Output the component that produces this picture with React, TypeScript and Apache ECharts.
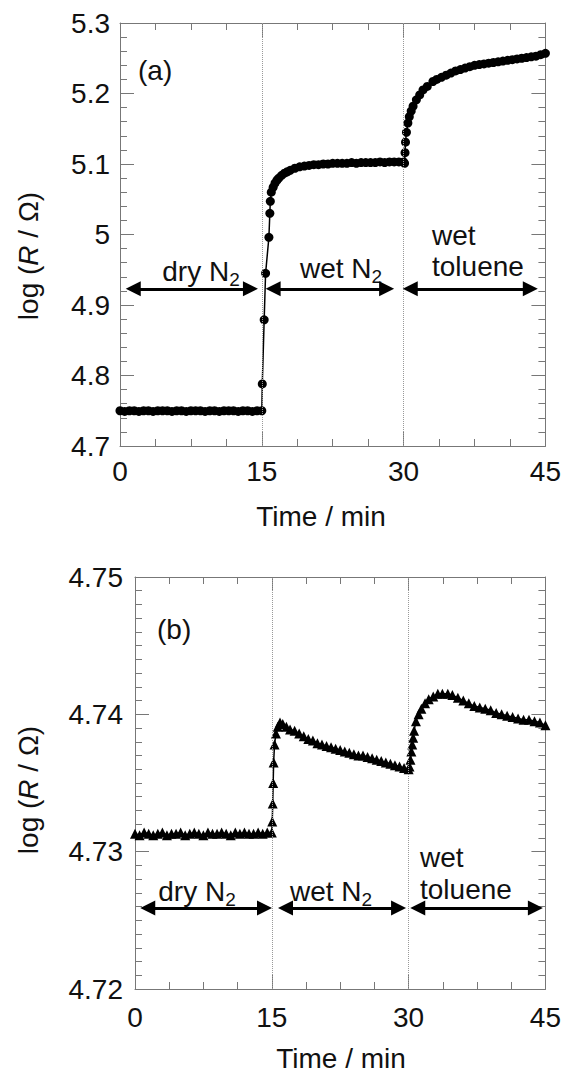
import React, { useEffect, useRef } from "react";
import * as echarts from "echarts";

// ---- Panel (a): log(R/Ω) vs time, filled circles ----
const timeA = [
  0, 0.5, 1, 1.5, 2, 2.5, 3, 3.5, 4, 4.5, 5, 5.5, 6, 6.5, 7, 7.5, 8, 8.5, 9, 9.5, 10, 10.5, 11, 11.5, 12, 12.5, 13, 13.5, 14, 14.5, 15,
  15.05, 15.25, 15.4, 15.75, 15.85, 15.9, 16.0, 16.2, 16.4, 16.6, 16.8, 17.1, 17.4, 17.7, 18.0, 18.5, 19.0, 19.5, 20.0,
  20.5, 21.0, 21.5, 22.0, 22.5, 23, 23.5, 24, 24.5, 25, 25.5, 26, 26.5, 27, 27.5, 28, 28.5, 29, 29.5, 30,
  30.1, 30.15, 30.2, 30.3, 30.45, 30.6, 30.8, 31.0, 31.35, 31.7, 32.05, 32.5, 33.1, 33.5, 34, 34.5, 35, 35.5, 36,
  36.5, 37, 37.5, 38, 38.5, 39, 39.5, 40, 40.5, 41, 41.5, 42, 42.5, 43, 43.5, 44, 44.5, 45,
];
const logRA = [
  4.750, 4.749, 4.750, 4.750, 4.749, 4.750, 4.750, 4.749, 4.750, 4.750, 4.750, 4.749, 4.750, 4.750, 4.749, 4.750, 4.750, 4.750, 4.749, 4.750, 4.750, 4.749, 4.750, 4.750, 4.750, 4.749, 4.750, 4.750, 4.749, 4.750, 4.750,
  4.788, 4.879, 4.945, 4.996, 5.030, 5.047, 5.060, 5.067, 5.073, 5.077, 5.080, 5.084, 5.087, 5.089, 5.091, 5.094, 5.096, 5.097, 5.098,
  5.099, 5.099, 5.100, 5.100, 5.101, 5.101, 5.101, 5.101, 5.102, 5.101, 5.102, 5.102, 5.102, 5.102, 5.103, 5.102, 5.103, 5.103, 5.103, 5.103,
  5.101, 5.116, 5.131, 5.145, 5.158, 5.167, 5.175, 5.182, 5.191, 5.198, 5.205, 5.210, 5.217, 5.220, 5.223, 5.226, 5.229, 5.232, 5.234,
  5.236, 5.238, 5.240, 5.241, 5.242, 5.243, 5.244, 5.245, 5.246, 5.247, 5.248, 5.249, 5.250, 5.251, 5.252, 5.253, 5.255, 5.257,
];

// ---- Panel (b): log(R/Ω) vs time, filled triangles ----
const timeB = [
  0, 0.5, 1, 1.5, 2, 2.5, 3, 3.5, 4, 4.5, 5, 5.5, 6, 6.5, 7, 7.5, 8, 8.5, 9, 9.5, 10, 10.5, 11, 11.5, 12, 12.5, 13, 13.5, 14, 14.5, 15,
  15.05, 15.1, 15.15, 15.2, 15.3, 15.45, 15.65, 15.9, 16.2, 16.6, 17, 17.5, 18, 18.5, 19, 19.5, 20, 20.5, 21, 21.5, 22, 22.5, 23,
  23.5, 24, 24.5, 25, 25.5, 26, 26.5, 27, 27.5, 28, 28.5, 29, 29.5, 30,
  30.1, 30.2, 30.3, 30.4, 30.5, 30.6, 30.8, 31.1, 31.4, 31.8, 32.2, 32.7, 33.2, 33.7, 34.3, 34.8, 35.4, 36, 36.6,
  37.2, 37.8, 38.4, 39, 39.6, 40.2, 40.8, 41.4, 42, 42.6, 43.2, 43.8, 44.4, 45,
];
const logRB = [
  4.7313, 4.7312, 4.7314, 4.7313, 4.7312, 4.7313, 4.7314, 4.7312, 4.7313, 4.7313, 4.7314, 4.7312, 4.7313, 4.7314, 4.7313, 4.7312, 4.7314, 4.7313, 4.7313, 4.7314, 4.7313, 4.7312, 4.7314, 4.7313, 4.7314, 4.7313, 4.7313, 4.7314, 4.7313, 4.7314, 4.7314,
  4.7322, 4.7335, 4.7350, 4.7365, 4.7378, 4.7386, 4.7391, 4.7394, 4.7393, 4.7391, 4.7389, 4.7388, 4.7386, 4.7384, 4.7382, 4.7381, 4.7379, 4.7378, 4.7377, 4.7376, 4.7375, 4.7374, 4.7373,
  4.7372, 4.7371, 4.7370, 4.7370, 4.7369, 4.7368, 4.7367, 4.7366, 4.7365, 4.7364, 4.7363, 4.7362, 4.7361, 4.7360,
  4.7362, 4.7367, 4.7373, 4.7378, 4.7383, 4.7388, 4.7395, 4.7400, 4.7404, 4.7408, 4.7411, 4.7413, 4.7415, 4.7415, 4.7415, 4.7414, 4.7412, 4.7410, 4.7408,
  4.7406, 4.7405, 4.7404, 4.7403, 4.7401, 4.7400, 4.7399, 4.7398, 4.7397, 4.7396, 4.7396, 4.7395, 4.7394, 4.7392,
];

// axes
const xRange = [0, 45];
const xStep = 15;
const yRangeA = [4.7, 5.3];
const yStepA = 0.1;
const yRangeB = [4.72, 4.75];
const yStepB = 0.01;

// phase boundaries (min) and arrow spans [start, end, level]
const phaseBounds = [15, 30];
const arrowsA = [
  [1.4, 13.8, 4.923],
  [16.2, 28.2, 4.923],
  [30.7, 43.4, 4.923],
];
const arrowsB = [
  [1.4, 14.2, 4.7259],
  [16.5, 28.9, 4.7259],
  [31.0, 43.9, 4.7259],
];

const FONT = "'Liberation Sans', Arial, Helvetica, sans-serif";
const AXC = "#777";
const TXT = "#111";

function xAxisDef(gridIndex: number, position: string, showLabel: boolean, margin: number) {
  return {
    type: "value",
    gridIndex,
    position,
    min: xRange[0],
    max: xRange[1],
    interval: xStep,
    axisLine: { show: true, onZero: false, lineStyle: { color: AXC, width: 1 } },
    axisTick: { show: true, inside: true, length: 14, lineStyle: { color: AXC, width: 1 } },
    minorTick: { show: true, splitNumber: 4, length: 7, lineStyle: { color: AXC, width: 1 } },
    splitLine: { show: false },
    minorSplitLine: { show: false },
    axisLabel: {
      show: showLabel,
      margin,
      color: TXT,
      fontSize: 28,
      fontFamily: FONT,
      showMinLabel: true,
      showMaxLabel: true,
    },
  };
}

function yAxisDef(
  gridIndex: number,
  position: string,
  showLabel: boolean,
  range: number[],
  step: number,
  minorSplit: number,
  margin: number
) {
  return {
    type: "value",
    gridIndex,
    position,
    min: range[0],
    max: range[1],
    interval: step,
    axisLine: { show: true, onZero: false, lineStyle: { color: AXC, width: 1 } },
    axisTick: { show: true, inside: true, length: 14, lineStyle: { color: AXC, width: 1 } },
    minorTick: { show: true, splitNumber: minorSplit, length: 7, lineStyle: { color: AXC, width: 1 } },
    splitLine: { show: false },
    minorSplitLine: { show: false },
    axisLabel: {
      show: showLabel,
      margin,
      color: TXT,
      fontSize: 28,
      fontFamily: FONT,
      showMinLabel: true,
      showMaxLabel: true,
    },
  };
}

function arrowSeries(xi: number, yi: number, spans: number[][]) {
  return {
    type: "line",
    xAxisIndex: xi,
    yAxisIndex: yi,
    data: [],
    silent: true,
    markLine: {
      silent: true,
      animation: false,
      symbol: ["triangle", "triangle"],
      symbolSize: 15,
      label: { show: false },
      lineStyle: { color: "#000", width: 3, type: "solid" },
      itemStyle: { color: "#000" },
      data: spans.map((s) => [{ coord: [s[0], s[2]] }, { coord: [s[1], s[2]] }]),
    },
  };
}

function boundSeries(xi: number, yi: number) {
  return {
    type: "line",
    xAxisIndex: xi,
    yAxisIndex: yi,
    data: [],
    silent: true,
    markLine: {
      silent: true,
      animation: false,
      symbol: "none",
      label: { show: false },
      lineStyle: { color: "#999", width: 1, type: "dotted" },
      data: phaseBounds.map((b) => ({ xAxis: b })),
    },
  };
}

const sub = { fontSize: 19, verticalAlign: "bottom", fill: TXT, fontFamily: FONT };
const main = { fontSize: 28, lineHeight: 31, verticalAlign: "top", fill: TXT, fontFamily: FONT };

function label(x: number, y: number, text: string, align = "center") {
  return {
    type: "text",
    x,
    y,
    silent: true,
    style: {
      text,
      rich: { m: main, s: sub },
      fill: TXT,
      fontSize: 28,
      fontFamily: FONT,
      align,
      verticalAlign: "middle",
    },
  };
}

function plain(x: number, y: number, text: string, align = "center") {
  return {
    type: "text",
    x,
    y,
    silent: true,
    style: { text, fill: TXT, fontSize: 28, fontFamily: FONT, align, verticalAlign: "middle" },
  };
}

function yName(x: number, y: number) {
  const m = { fontSize: 28, fill: TXT, fontFamily: FONT };
  return {
    type: "text",
    x,
    y,
    rotation: Math.PI / 2,
    silent: true,
    style: {
      text: "{m|log (}{i|R}{m| / Ω)}",
      rich: { m, i: { ...m, fontStyle: "italic" } },
      fill: TXT,
      fontSize: 28,
      fontFamily: FONT,
      align: "center",
      verticalAlign: "middle",
    },
  };
}

export default function App() {
  const ref = useRef<HTMLDivElement>(null);
  useEffect(() => {
    if (!ref.current) return;
    const chart = echarts.init(ref.current, null, { renderer: "svg" });
    const option = {
      animation: false,
      backgroundColor: "#fff",
      grid: [
        { left: 120, top: 23, width: 427, height: 423, containLabel: false },
        { left: 135, top: 577, width: 412, height: 412, containLabel: false },
      ],
      xAxis: [
        xAxisDef(0, "bottom", true, 11),
        xAxisDef(0, "top", false, 8),
        xAxisDef(1, "bottom", true, 14),
        xAxisDef(1, "top", false, 8),
      ],
      yAxis: [
        yAxisDef(0, "left", true, yRangeA, yStepA, 5, 10),
        yAxisDef(0, "right", false, yRangeA, yStepA, 5, 8),
        yAxisDef(1, "left", true, yRangeB, yStepB, 10, 12),
        yAxisDef(1, "right", false, yRangeB, yStepB, 10, 8),
      ],
      series: [
        boundSeries(0, 0),
        boundSeries(2, 2),
        {
          type: "line",
          xAxisIndex: 0,
          yAxisIndex: 0,
          data: timeA.map((t, i) => [t, logRA[i]]),
          symbol: "circle",
          symbolSize: 9,
          showAllSymbol: true,
          itemStyle: { color: "#000" },
          lineStyle: { color: "#000", width: 1.5 },
          silent: true,
        },
        {
          type: "line",
          xAxisIndex: 2,
          yAxisIndex: 2,
          data: timeB.map((t, i) => [t, logRB[i]]),
          symbol: "triangle",
          symbolSize: 10,
          showAllSymbol: true,
          itemStyle: { color: "#000" },
          lineStyle: { color: "#000", width: 1.5 },
          silent: true,
        },
        arrowSeries(0, 0, arrowsA),
        arrowSeries(2, 2, arrowsB),
      ],
      graphic: [
        plain(138, 70, "(a)", "left"),
        plain(157, 629, "(b)", "left"),
        label(201, 273, "{m|dry N}{s|2}"),
        label(341, 270, "{m|wet N}{s|2}"),
        plain(432, 235, "wet", "left"),
        plain(432, 266, "toluene", "left"),
        label(197, 893, "{m|dry N}{s|2}"),
        label(331, 893, "{m|wet N}{s|2}"),
        plain(420, 857, "wet", "left"),
        plain(420, 889, "toluene", "left"),
        yName(28, 256),
        yName(28, 790),
        plain(321, 516, "Time / min"),
        plain(341, 1058, "Time / min"),
      ],
    };
    chart.setOption(option as any);
    return () => chart.dispose();
  }, []);
  return (
    <div
      ref={ref}
      style={{ position: "absolute", left: 0, top: 0, width: 564, height: 1077, background: "#fff" }}
    />
  );
}
